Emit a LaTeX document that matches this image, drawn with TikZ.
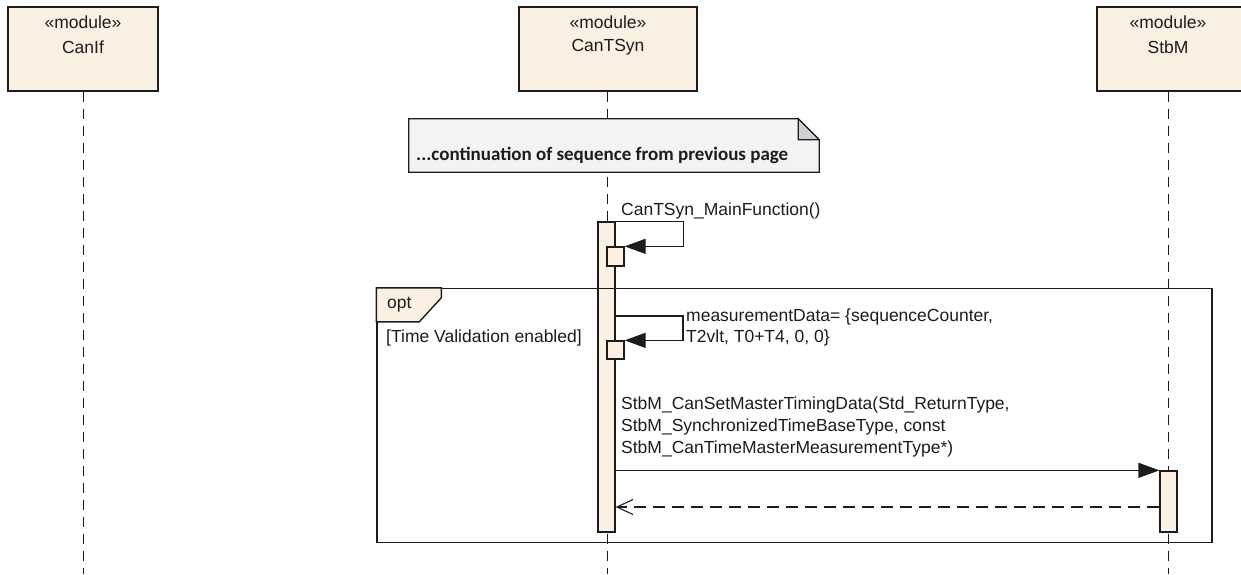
\documentclass[tikz,border=0pt]{standalone}
\usepackage{fontspec}
\setmainfont{Liberation Sans}
\newfontfamily\notefont{Carlito}
\usetikzlibrary{arrows.meta,calc}
\definecolor{headfill}{RGB}{251,241,227}
\definecolor{notefill}{RGB}{245,242,245}
\definecolor{foldfill}{RGB}{208,207,212}
\definecolor{ink}{RGB}{28,28,28}
\begin{document}
\begin{tikzpicture}[x=1pt,y=-1pt,
  every node/.style={font=\fontsize{17.5}{21}\selectfont, text=ink},
  lifehead/.style={draw=ink, line width=1.4pt, fill=headfill, inner sep=0pt, minimum height=84pt},
  lifeline/.style={draw=ink, line width=1pt, dash pattern=on 10pt off 7pt},
  actbar/.style={draw=ink, line width=1.3pt, fill=headfill, inner sep=0pt, minimum width=17pt},
  syncmsg/.style={draw=ink, line width=1.3pt, -{Triangle[length=21pt,width=15pt]}},
  retmsg/.style={draw=ink, line width=1.3pt, dash pattern=on 12pt off 7pt, -{Straight Barb[length=16pt,width=15pt,line width=1.1pt]}},
  label/.style={anchor=west, inner sep=0pt, align=left},
  framebox/.style={draw=ink, line width=1.4pt, inner sep=0pt}
]
\useasboundingbox (0,0) rectangle (1241,574);

% lifeline heads
\node[lifehead, minimum width=150pt] (canif) at (83,49) {};
\node (canifst) at (83,22) {«module»};
\node (canifnm) at (83,47) {CanIf};
\node[lifehead, minimum width=178pt] (cantsyn) at (608,49) {};
\node (cantsynst) at (608,22) {«module»};
\node (cantsynnm) at (608,47) {CanTSyn};
\node[lifehead, minimum width=150pt] (stbm) at (1172,49) {};
\node (stbmst) at (1168,22) {«module»};
\node (stbmnm) at (1168,47) {StbM};

% lifelines
\coordinate (canifend) at (83,574);
\coordinate (cantsynend) at (607,574);
\coordinate (stbmend) at (1168,574);
\draw[lifeline] (canif.south) -- (canifend);
\draw[lifeline] (cantsyn.south -| cantsynend) -- (cantsynend);
\draw[lifeline] (stbm.south -| stbmend) -- (stbmend);

% note with folded corner
\node[inner sep=0pt, minimum width=410pt, minimum height=53pt] (note) at (614,145.5) {};
\draw[draw=ink, line width=1.2pt, fill=notefill]
  (note.north west) -- ($(note.north east)+(-21,0)$) -- ($(note.north east)+(0,21)$)
  -- (note.south east) -- (note.south west) -- cycle;
\draw[draw=ink, line width=1.2pt, fill=foldfill]
  ($(note.north east)+(-21,0)$) -- ($(note.north east)+(-21,21)$) -- ($(note.north east)+(0,21)$) -- cycle;
\node[anchor=west, inner sep=0pt, font=\notefont\bfseries\fontsize{19}{21}\selectfont] (notetext) at (416,155)
  {...continuation of sequence from previous page};

% activations
\node[actbar, minimum height=310pt] (cbar) at (606.5,377) {};
\node[actbar, minimum height=19pt] (nest1) at (615.5,256.5) {};
\node[actbar, minimum height=18pt] (nest2) at (615.5,350) {};
\node[actbar, minimum height=61pt] (sbar) at (1168.5,501.5) {};

% self calls
\draw[syncmsg] (cbar.north east) -- ++(68,0) |- (nest1.north east);
\node[label] (mainfn) at (621,211) {CanTSyn\_MainFunction()};

\coordinate (loop2) at (615,316);
\draw[syncmsg] (loop2) -- ++(68,0) |- (nest2.north east);
\node[label, font=\fontsize{17.5}{21}\selectfont] (meas) at (686,327)
  {measurementData= \{sequenceCounter,\\T2vlt, T0+T4, 0, 0\}};

% call into StbM and its return
\node[label, font=\fontsize{17.5}{22}\selectfont] (setlbl) at (621,427)
  {StbM\_CanSetMasterTimingData(Std\_ReturnType,\\StbM\_SynchronizedTimeBaseType, const\\StbM\_CanTimeMasterMeasurementType*)};
\draw[syncmsg] (cbar.east |- sbar.north west) -- (sbar.north west);
\coordinate (retlevel) at (0,507);
\draw[retmsg] (sbar.west |- retlevel) -- (cbar.east |- retlevel);

% opt fragment
\node[framebox, minimum width=835pt, minimum height=254pt] (optframe) at (794.5,415.5) {};
\draw[draw=ink, line width=1.4pt, fill=headfill]
  (optframe.north west) -- ++(65,0) -- ++(0,10) -- ++(-22,24) -- ++(-43,0) -- cycle;
\node[anchor=west, inner sep=0pt] (optkw) at (387,305) {opt};
\node[anchor=west, inner sep=0pt] (guard) at (386,338) {[Time Validation enabled]};
\end{tikzpicture}
\end{document}
